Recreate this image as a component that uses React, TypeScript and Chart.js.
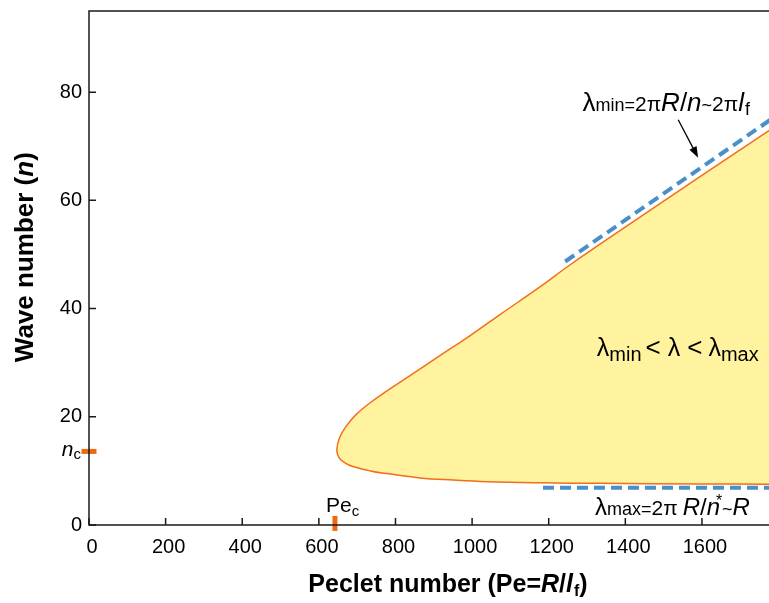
import { useEffect, useRef } from "react";
import { Chart, registerables } from "chart.js";
Chart.register(...registerables);

// ---- data ----
const upperPe = [1880, 1775, 1595, 1386, 1256, 1178, 1073, 995, 916, 838, 778, 734, 697, 674, 655, 647];
const upperN = [77.8, 72.9, 64.4, 54.4, 48.1, 44.05, 38.9, 35.0, 31.3, 27.6, 24.8, 22.6, 20.4, 18.5, 16.3, 13.9];
const lowerPe = [653, 668, 689, 734, 778, 864, 950, 1039, 1178, 1334, 1595, 1775, 1880];
const lowerN = [12.4, 11.5, 10.8, 10.0, 9.5, 8.7, 8.3, 8.0, 7.8, 7.7, 7.6, 7.55, 7.5];
const minAsymPe = [1243, 1880];
const minAsymN = [48.7, 79.85];
const maxAsymPe = [1185, 1880];
const maxAsymN = [6.9, 6.9];
const peC = 642;
const nC = 13.6;
const xTickVals = [0, 200, 400, 600, 800, 1000, 1200, 1400, 1600];
const yTickVals = [0, 20, 40, 60, 80];
const xMax = 1775;
const yMax = 95;

const FAM = '"Liberation Sans", Arial, Helvetica, sans-serif';
const ORANGE = "#F26E1A";
const MARK = "#EE6A10";
const YELLOW = "#FFF39F";
const BLUE = "#4A90C8";

type Part = { t: string; size: number; italic?: boolean; bold?: boolean; dy?: number; gap?: number };

function font(p: Part) {
  return `${p.italic ? "italic " : ""}${p.bold ? "bold " : ""}${p.size}px ${FAM}`;
}
function measure(ctx: CanvasRenderingContext2D, parts: Part[]) {
  let w = 0;
  for (const p of parts) {
    ctx.font = font(p);
    w += ctx.measureText(p.t).width + (p.gap || 0);
  }
  return w;
}
function drawRich(ctx: CanvasRenderingContext2D, x: number, y: number, parts: Part[]) {
  let cx = x;
  ctx.textBaseline = "alphabetic";
  ctx.textAlign = "left";
  for (const p of parts) {
    ctx.font = font(p);
    ctx.fillText(p.t, cx, y + (p.dy || 0));
    cx += ctx.measureText(p.t).width + (p.gap || 0);
  }
}

const annMin: Part[] = [
  { t: "λ", size: 26 },
  { t: "min=", size: 18 },
  { t: "2π", size: 21 },
  { t: "R", size: 26, italic: true },
  { t: "/", size: 26 },
  { t: "n", size: 26, italic: true },
  { t: "~", size: 18 },
  { t: "2π", size: 21 },
  { t: "l", size: 26, italic: true, gap: 1 },
  { t: "f", size: 18, dy: 4 },
];
const annMid: Part[] = [
  { t: "λ", size: 25 },
  { t: "min", size: 20, dy: 5, gap: 4 },
  { t: "<", size: 26, gap: 7 },
  { t: "λ", size: 25, gap: 7 },
  { t: "<", size: 26, gap: 6 },
  { t: "λ", size: 25 },
  { t: "max", size: 20, dy: 5 },
];
const annMaxA: Part[] = [
  { t: "λ", size: 24 },
  { t: "max=", size: 18 },
  { t: "2π", size: 21, gap: 5 },
  { t: "R", size: 24, italic: true },
  { t: "/", size: 24 },
  { t: "n", size: 24, italic: true, gap: -4 },
];
const annMaxB: Part[] = [
  { t: "~", size: 18 },
  { t: "R", size: 24, italic: true },
];
const xTitle: Part[] = [
  { t: "Peclet number (Pe=", size: 25, bold: true },
  { t: "R", size: 25, bold: true, italic: true },
  { t: "/", size: 25, bold: true },
  { t: "l", size: 25, bold: true, italic: true, gap: 1 },
  { t: "f", size: 16, bold: true, dy: 4 },
  { t: ")", size: 25, bold: true },
];
const yTitle: Part[] = [
  { t: "Wave number (", size: 26, bold: true },
  { t: "n", size: 26, bold: true, italic: true },
  { t: ")", size: 26, bold: true },
];
const peLabel: Part[] = [
  { t: "Pe", size: 21 },
  { t: "c", size: 15, dy: 4 },
];
const nLabel: Part[] = [
  { t: "n", size: 21, italic: true },
  { t: "c", size: 15, dy: 3 },
];

const decor = {
  id: "decor",
  afterDraw(chart: any) {
    const ctx: CanvasRenderingContext2D = chart.ctx;
    const xs = chart.scales.x;
    const ys = chart.scales.y;
    const a = chart.chartArea;
    const X = (v: number) => xs.getPixelForValue(v);
    const Y = (v: number) => ys.getPixelForValue(v);
    ctx.save();
    // frame
    ctx.strokeStyle = "#1a1a1a";
    ctx.lineWidth = 1.5;
    ctx.beginPath();
    ctx.moveTo(a.right + 2, a.top);
    ctx.lineTo(a.left, a.top);
    ctx.lineTo(a.left, a.bottom);
    ctx.lineTo(a.right + 2, a.bottom);
    ctx.stroke();
    // inward ticks
    ctx.beginPath();
    for (const t of xs.ticks) {
      const px = X(t.value);
      ctx.moveTo(px, a.bottom);
      ctx.lineTo(px, a.bottom - 7);
    }
    for (const t of ys.ticks) {
      const py = Y(t.value);
      ctx.moveTo(a.left, py);
      ctx.lineTo(a.left + 7, py);
    }
    ctx.stroke();

    ctx.fillStyle = "#000";
    // annotations
    drawRich(ctx, X(1288), Y(76.45), annMin);
    drawRich(ctx, X(1325.6), Y(31.16), annMid);
    const bx = X(1321), by = Y(1.9);
    drawRich(ctx, bx, by, annMaxA);
    const wA = measure(ctx, annMaxA);
    ctx.font = `16px ${FAM}`;
    ctx.fillText("*", bx + wA, by - 9);
    drawRich(ctx, bx + wA + 6, by, annMaxB);
    drawRich(ctx, X(618.8), Y(2.46), peLabel);
    const nw = measure(ctx, nLabel);
    drawRich(ctx, a.left - 8 - nw, Y(12.68), nLabel);

    // arrow
    const sx = X(1538), sy = Y(74.9), tx = X(1590), ty = Y(67.9);
    const ang = Math.atan2(ty - sy, tx - sx);
    const hl = 11, hw = 4;
    ctx.strokeStyle = "#000";
    ctx.lineWidth = 1.3;
    ctx.beginPath();
    ctx.moveTo(sx, sy);
    ctx.lineTo(tx - Math.cos(ang) * hl * 0.8, ty - Math.sin(ang) * hl * 0.8);
    ctx.stroke();
    ctx.beginPath();
    ctx.moveTo(tx, ty);
    ctx.lineTo(tx - Math.cos(ang) * hl - Math.sin(ang) * hw, ty - Math.sin(ang) * hl + Math.cos(ang) * hw);
    ctx.lineTo(tx - Math.cos(ang) * hl + Math.sin(ang) * hw, ty - Math.sin(ang) * hl - Math.cos(ang) * hw);
    ctx.closePath();
    ctx.fill();

    // axis titles
    const wx = measure(ctx, xTitle);
    drawRich(ctx, X(937) - wx / 2, a.bottom + 67, xTitle);
    ctx.translate(33, Y(49.5));
    ctx.rotate(-Math.PI / 2);
    const wy = measure(ctx, yTitle);
    drawRich(ctx, -wy / 2, 0, yTitle);
    ctx.restore();
  },
};

export default function App() {
  const ref = useRef<HTMLCanvasElement | null>(null);
  useEffect(() => {
    if (!ref.current) return;
    const region = [
      ...upperPe.map((x, i) => ({ x, y: upperN[i] })),
      ...lowerPe.map((x, i) => ({ x, y: lowerN[i] })),
    ];
    const chart = new Chart(ref.current, {
      type: "scatter",
      data: {
        datasets: [
          {
            data: region,
            showLine: true,
            borderColor: ORANGE,
            borderWidth: 1.5,
            backgroundColor: YELLOW,
            fill: "shape",
            pointRadius: 0,
            tension: 0.4,
          } as any,
          {
            data: minAsymPe.map((x, i) => ({ x, y: minAsymN[i] })),
            showLine: true,
            borderColor: BLUE,
            borderWidth: 4,
            borderDash: [11, 6],
            pointRadius: 0,
            fill: false,
          },
          {
            data: maxAsymPe.map((x, i) => ({ x, y: maxAsymN[i] })),
            showLine: true,
            borderColor: BLUE,
            borderWidth: 4,
            borderDash: [11, 6],
            pointRadius: 0,
            fill: false,
          },
          {
            data: [{ x: 0, y: nC }],
            pointStyle: "line",
            pointRadius: 7.5,
            borderWidth: 5,
            borderColor: MARK,
            clip: false,
          } as any,
          {
            data: [{ x: peC, y: 0.3 }],
            pointStyle: "line",
            rotation: 90,
            pointRadius: 7.5,
            borderWidth: 5,
            borderColor: MARK,
            clip: false,
          } as any,
        ],
      },
      options: {
        animation: false,
        responsive: false,
        layout: { autoPadding: false, padding: { top: 11, left: 0, right: 0, bottom: 0 } },
        plugins: { legend: { display: false }, tooltip: { enabled: false } },
        scales: {
          x: {
            type: "linear",
            min: 0,
            max: xMax,
            grid: { display: false, drawTicks: false, tickLength: 0 },
            border: { display: false },
            afterBuildTicks: (s: any) => {
              s.ticks = xTickVals.map((v) => ({ value: v }));
            },
            ticks: {
              color: "#000",
              font: { family: FAM, size: 20 },
              padding: 10,
              labelOffset: 3,
              maxRotation: 0,
              autoSkip: false,
              callback: (v: any) => String(v),
            },
            afterFit: (s: any) => {
              s.height = 78;
              s.paddingLeft = 0;
              s.paddingRight = 0;
            },
          },
          y: {
            type: "linear",
            min: 0,
            max: yMax,
            grid: { display: false, drawTicks: false, tickLength: 0 },
            border: { display: false },
            afterBuildTicks: (s: any) => {
              s.ticks = yTickVals.map((v) => ({ value: v }));
            },
            ticks: {
              color: "#000",
              font: { family: FAM, size: 20 },
              padding: 7,
              callback: (v: any) => String(v),
            },
            afterFit: (s: any) => {
              s.width = 89;
              s.paddingTop = 0;
              s.paddingBottom = 0;
            },
          },
        },
      },
      plugins: [decor],
    });
    return () => chart.destroy();
  }, []);
  return (
    <div style={{ position: "absolute", left: 0, top: 0, width: 769, height: 603, overflow: "hidden" }}>
      <canvas ref={ref} width={769} height={603} style={{ display: "block" }} />
    </div>
  );
}
